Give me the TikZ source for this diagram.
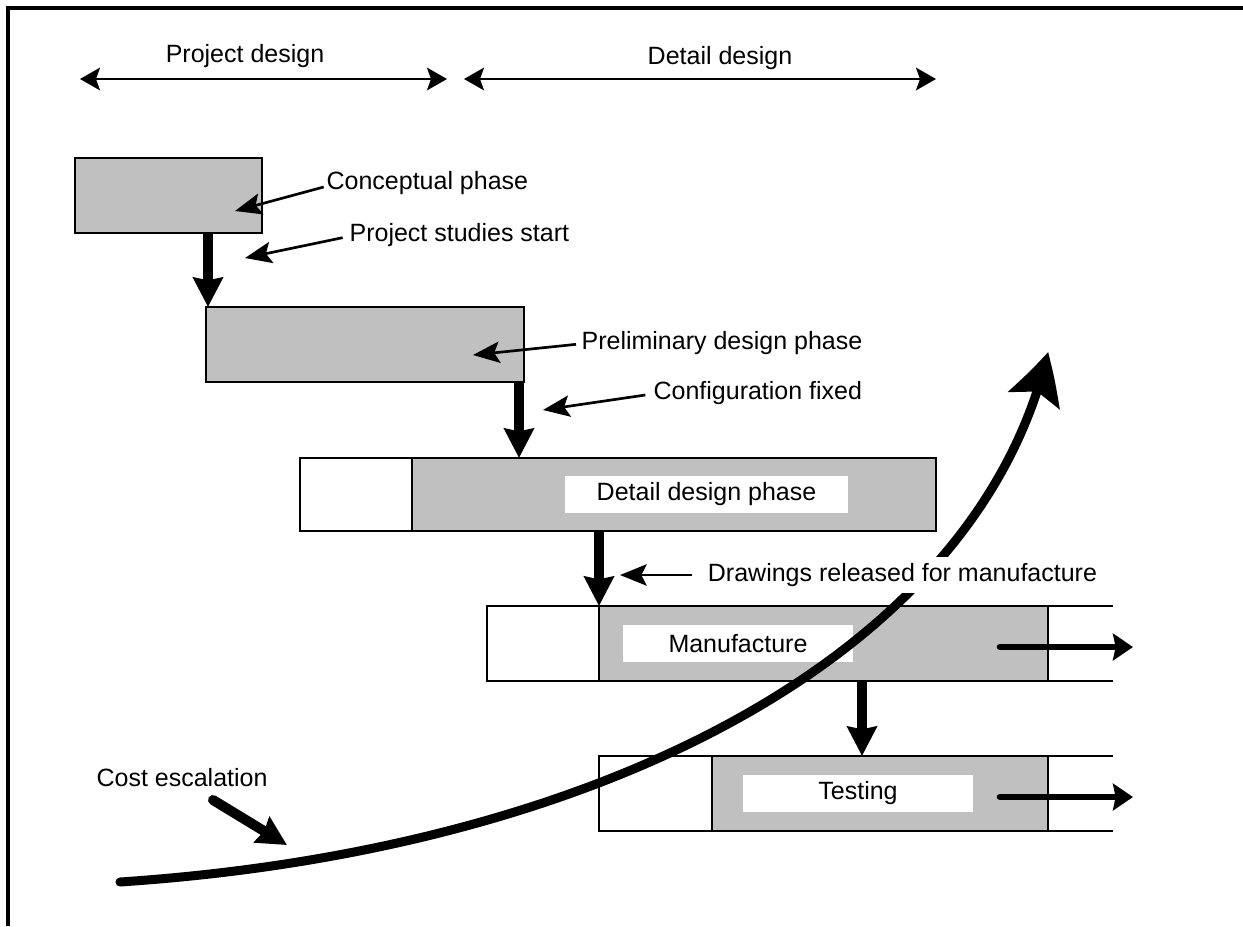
\documentclass[tikz,border=0pt]{standalone}
\usepackage{fontspec}
\setmainfont{Liberation Sans}
\usetikzlibrary{arrows.meta,fit,bending}
\definecolor{boxgray}{HTML}{C0C0C0}
\begin{document}
\begin{tikzpicture}[x=0.75pt,y=-0.75pt,
  lbl/.style={font=\fontsize{18.75}{22}\selectfont, inner sep=1pt},
  gbox/.style={draw=black, line width=0.9pt, fill=boxgray, inner sep=0pt, outer sep=0pt},
  wbox/.style={draw=black, line width=0.9pt, fill=white, inner sep=0pt, outer sep=0pt},
  labbox/.style={fill=white, inner sep=0pt, outer sep=0pt},
  edge/.style={draw=black, line width=0.9pt},
  ptr/.style={line width=2pt, -{Stealth[length=20pt,width=16pt,inset=4pt]}},
  span/.style={line width=1.5pt, {Stealth[length=15pt,width=17pt,inset=3pt]}-{Stealth[length=15pt,width=17pt,inset=3pt]}},
  flow/.style={line width=7.5pt, -{Stealth[length=22pt,width=22pt,inset=2pt]}},
  cont/.style={line width=5pt, line cap=round, -{Stealth[length=15pt,width=20pt,inset=2pt]}},
  cost/.style={line width=6.75pt, line cap=round, -{Stealth[length=38pt,width=40pt,inset=7pt,bend]}},
]
\useasboundingbox (0,0) rectangle (1243,926);
\fill[white] (0,0) rectangle (1243,926);
% frame
\draw[line width=3pt] (8,926) -- (8,8) -- (1243,8);

% top spans
\coordinate (pd1) at (80,79);
\coordinate (pd2) at (447,79);
\coordinate (dd1) at (464,79);
\coordinate (dd2) at (936,79);
\draw[span] (pd1) -- (pd2);
\draw[span] (dd1) -- (dd2);
\node[lbl] (pdT) at (245,56) {Project design};
\node[lbl] (ddT) at (720,58) {Detail design};

% phase boxes
\node[gbox, fit={(75,158) (262,233)}] (concept) {};
\node[gbox, fit={(206,307) (524,382)}] (prelim) {};
\node[wbox, fit={(300,458) (412,531)}] (detW) {};
\node[gbox, fit={(412,458) (936,531)}] (detG) {};
\node[labbox, fit={(565,476) (848,513)}] (detL) {};
\node[lbl] (detLT) at (detL.center) {Detail design phase};

\node[wbox, fit={(487,606) (599,681)}] (manW) {};
\node[gbox, fit={(599,606) (1048,681)}] (manG) {};
\coordinate (manNE) at (1113,606);
\coordinate (manSE) at (1113,681);
\draw[edge] (manG.north east) -- (manNE);
\draw[edge] (manG.south east) -- (manSE);
\node[labbox, fit={(623,625) (853,662)}] (manL) {};
\node[lbl] (manLT) at (manL.center) {Manufacture};

\node[wbox, fit={(599,756) (712,831)}] (testW) {};
\node[gbox, fit={(712,756) (1048,831)}] (testG) {};
\coordinate (testNE) at (1113,756);
\coordinate (testSE) at (1113,831);
\draw[edge] (testG.north east) -- (testNE);
\draw[edge] (testG.south east) -- (testSE);
\node[labbox, fit={(743,775) (973,812)}] (testL) {};
\node[lbl] (testLT) at (testL.center) {Testing};

% continuing arrows
\coordinate (m1) at (1000,647);
\coordinate (m2) at (1133,647);
\coordinate (t1) at (1000,797);
\coordinate (t2) at (1133,797);
\draw[cont] (m1) -- (m2);
\draw[cont] (t1) -- (t2);

% flow arrows between phases
\coordinate (f1b) at ([xshift=1.5pt]prelim.north west);
\draw[flow] (f1b |- concept.south) -- (f1b);
\coordinate (f2b) at ([xshift=-3.75pt]prelim.south east);
\draw[flow] (f2b) -- (f2b |- detG.north);
\draw[flow] (manG.north west |- detG.south) -- (manG.north west);
\coordinate (f4x) at (862,700);
\draw[flow] (f4x |- manG.south) -- (f4x |- testG.north);

% pointer labels
\node[lbl, anchor=west] (cpT) at (325,183) {Conceptual phase};
\coordinate (cpP) at (235,211);
\draw[ptr] ([xshift=-1pt,yshift=-3pt]cpT.west) -- (cpP);

\node[lbl, anchor=west] (psT) at (348,235) {Project studies start};
\coordinate (psP) at (245,258);
\draw[ptr] ([xshift=-4pt,yshift=-2pt]psT.west) -- (psP);

\node[lbl, anchor=west] (pdpT) at (580,343) {Preliminary design phase};
\coordinate (pdpP) at (473,355);
\draw[ptr] ([xshift=-3pt,yshift=-1pt]pdpT.west) -- (pdpP);

\node[lbl, anchor=west] (cfT) at (652,393) {Configuration fixed};
\coordinate (cfP) at (543,410);
\draw[ptr] ([xshift=-5pt,yshift=-1.5pt]cfT.west) -- (cfP);

% cost escalation
\node[lbl, anchor=west] (ceT) at (95,778) {Cost escalation};
\coordinate (ceA) at (213,800);
\coordinate (ceB) at (287,845);
\draw[flow, line cap=round] (ceA) -- (ceB);

\coordinate (cs) at (120,882);
\coordinate (ce) at (1048,352);
\draw[cost] (cs) .. controls (600,850) and (978,655) .. (ce);

% drawings released (white background over curve)
\node[lbl, anchor=west, fill=white, inner xsep=2pt, inner ysep=4.5pt] (drT) at (705,575) {Drawings released for manufacture};
\coordinate (drP) at (620,575);
\draw[ptr] ([xshift=-9.75pt]drT.west) -- (drP);
\end{tikzpicture}
\end{document}
